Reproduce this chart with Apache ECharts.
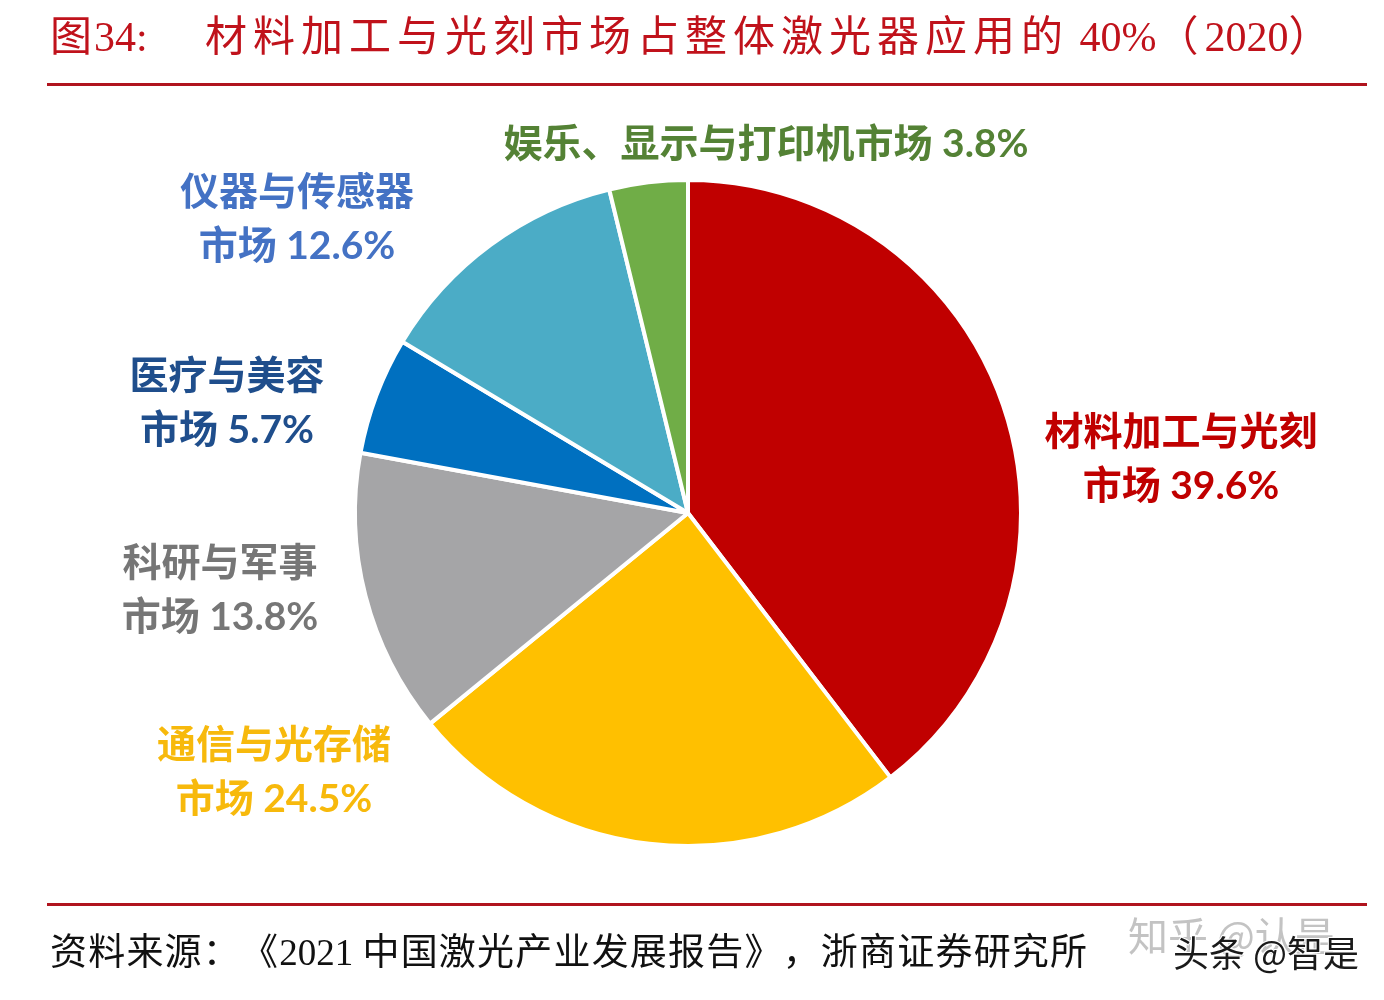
<!DOCTYPE html>
<html>
<head>
<meta charset="utf-8">
<script src="https://cdn.jsdelivr.net/npm/echarts@6/dist/echarts.min.js"></script>
<style>
html,body{margin:0;padding:0;background:#fff;}
#main{width:1384px;height:1000px;}
</style>
</head>
<body>
<div id="main"></div>
<script>
// ---- data ----
const categories = ['材料加工与光刻', '通信与光存储', '科研与军事', '医疗与美容', '仪器与传感器', '娱乐、显示与打印机'];
const shares = [39.6, 24.5, 13.8, 5.7, 12.6, 3.8];
const titlePrefix = '图34:';
const titleText = '材料加工与光刻市场占整体激光器应用的 40%（2020）';
const sourceText = '资料来源：《2021 中国激光产业发展报告》，浙商证券研究所';

// ---- styles ----
const sliceColors = ['#C00000', '#FFC000', '#A5A5A7', '#0070C0', '#4BACC6', '#70AD47'];
const labelColors = ['#C00000', '#F7B90C', '#767676', '#1F4E8C', '#4472C4', '#548235'];

const chart = echarts.init(document.getElementById('main'), null, {renderer: 'canvas'});

const labelSpots = [
  [1181, 459], [274, 772], [220, 590], [227, 403], [297, 219], [766, 144]
];

const serifFont = '"Liberation Serif", "DejaVu Serif", "Noto Sans CJK SC", serif';
const labelFont = 'Lato, "Noto Sans CJK SC", sans-serif';

// letter-spaced text helper (spacing applied after wide CJK characters only)
const mctx = document.createElement('canvas').getContext('2d');
function spacedText(str, x0, y, font, fill, spacing) {
  mctx.font = font;
  const children = [];
  let x = x0;
  for (const ch of str) {
    children.push({type: 'text', x: x, y: y, style: {text: ch, font: font, fill: fill, textVerticalAlign: 'middle'}});
    const wide = ch.charCodeAt(0) > 0x2E80;
    x += mctx.measureText(ch).width + (wide ? spacing : 0);
  }
  return {type: 'group', children: children};
}

const pieData = categories.map((c, i) => ({
  name: c,
  value: shares[i],
  itemStyle: {color: sliceColors[i]},
  label: {color: labelColors[i]}
}));

chart.setOption({
  backgroundColor: '#ffffff',
  animation: false,
  graphic: [
    spacedText(titlePrefix, 50, 40, '42px ' + serifFont, '#C0121B', 2),
    spacedText(titleText, 205, 40, '42px ' + serifFont, '#C0121B', 6),
    {type: 'rect', shape: {x: 47, y: 83, width: 1320, height: 3}, style: {fill: '#B0141E'}},
    {type: 'rect', shape: {x: 47, y: 903, width: 1320, height: 3}, style: {fill: '#B0141E'}},
    spacedText(sourceText, 50, 955, '37px ' + serifFont, '#111111', 1.2),
    {type: 'text', left: 1128, top: 916, style: {text: '知乎 @认是', font: '40px "Noto Sans CJK SC", sans-serif', fill: 'rgba(170,170,170,0.7)'}},
    {type: 'text', left: 1172, top: 934, style: {text: '头条 @智是', font: '36px "Noto Sans CJK SC", sans-serif', fill: '#1a1a1a', stroke: '#ffffff', lineWidth: 2}}
  ],
  series: [{
    type: 'pie',
    center: [688, 513],
    radius: [0, 333],
    startAngle: 90,
    clockwise: true,
    avoidLabelOverlap: false,
    itemStyle: {borderColor: '#ffffff', borderWidth: 4},
    label: {
      show: true,
      position: 'outside',
      fontFamily: labelFont,
      fontSize: 39,
      fontWeight: 'bold',
      lineHeight: 54,
      align: 'center',
      formatter: (p) => p.dataIndex === 5
        ? p.name + '市场 ' + p.value + '%'
        : p.name + '\n市场 ' + p.value + '%'
    },
    labelLine: {show: false},
    labelLayout: (params) => {
      const s = labelSpots[params.dataIndex];
      return {x: s[0], y: s[1], align: 'center', verticalAlign: 'middle'};
    },
    emphasis: {disabled: true},
    data: pieData
  }]
});
</script>
</body>
</html>
